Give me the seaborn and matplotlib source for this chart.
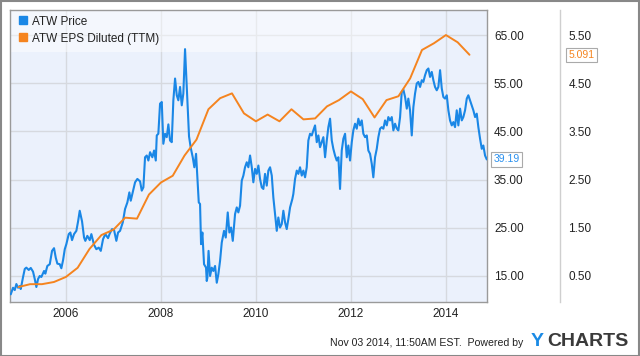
import numpy as np
import pandas as pd
import matplotlib
matplotlib.use("Agg")
import matplotlib.pyplot as plt
from matplotlib.lines import Line2D
from matplotlib.patches import Rectangle
import seaborn as sns

# ---------------- data ----------------
price_year = [
    2004.836, 2004.884, 2004.920, 2004.954, 2004.990, 2005.025, 2005.046, 2005.095, 2005.131, 2005.164,
    2005.215, 2005.257, 2005.305, 2005.341, 2005.375, 2005.411, 2005.446, 2005.480, 2005.537, 2005.564,
    2005.606, 2005.657, 2005.705, 2005.747, 2005.783, 2005.817, 2005.867, 2005.901, 2005.937, 2005.973,
    2006.006, 2006.057, 2006.091, 2006.126, 2006.168, 2006.217, 2006.253, 2006.288, 2006.337, 2006.379,
    2006.406, 2006.448, 2006.499, 2006.533, 2006.589, 2006.638, 2006.688, 2006.731, 2006.779, 2006.827,
    2006.884, 2006.920, 2006.968, 2007.011, 2007.059, 2007.095, 2007.137, 2007.194, 2007.242, 2007.291,
    2007.333, 2007.362, 2007.404, 2007.453, 2007.501, 2007.558, 2007.594, 2007.628, 2007.663, 2007.699,
    2007.733, 2007.769, 2007.817, 2007.853, 2007.889, 2007.910, 2007.943, 2007.979, 2008.015, 2008.048,
    2008.084, 2008.120, 2008.154, 2008.189, 2008.225, 2008.259, 2008.295, 2008.331, 2008.364, 2008.400,
    2008.436, 2008.469, 2008.505, 2008.541, 2008.589, 2008.625, 2008.667, 2008.701, 2008.737, 2008.764,
    2008.794, 2008.821, 2008.842, 2008.870, 2008.905, 2008.947, 2008.962, 2008.975, 2009.000, 2009.032,
    2009.067, 2009.101, 2009.137, 2009.173, 2009.206, 2009.242, 2009.278, 2009.326, 2009.362, 2009.404,
    2009.438, 2009.474, 2009.510, 2009.558, 2009.594, 2009.627, 2009.663, 2009.699, 2009.733, 2009.768,
    2009.804, 2009.838, 2009.874, 2009.910, 2009.943, 2009.979, 2010.015, 2010.049, 2010.084, 2010.120,
    2010.154, 2010.189, 2010.225, 2010.259, 2010.295, 2010.331, 2010.364, 2010.400, 2010.436, 2010.469,
    2010.505, 2010.541, 2010.575, 2010.611, 2010.646, 2010.680, 2010.716, 2010.764, 2010.785, 2010.821,
    2010.857, 2010.891, 2010.926, 2010.962, 2010.996, 2011.032, 2011.067, 2011.101, 2011.137, 2011.173,
    2011.206, 2011.242, 2011.278, 2011.312, 2011.347, 2011.383, 2011.417, 2011.453, 2011.489, 2011.522,
    2011.558, 2011.594, 2011.627, 2011.663, 2011.699, 2011.733, 2011.768, 2011.804, 2011.838, 2011.874,
    2011.910, 2011.943, 2011.979, 2012.015, 2012.048, 2012.084, 2012.120, 2012.154, 2012.189, 2012.225,
    2012.259, 2012.295, 2012.331, 2012.364, 2012.400, 2012.436, 2012.469, 2012.505, 2012.541, 2012.575,
    2012.611, 2012.646, 2012.680, 2012.716, 2012.752, 2012.785, 2012.821, 2012.857, 2012.891, 2012.926,
    2012.962, 2012.996, 2013.032, 2013.067, 2013.101, 2013.137, 2013.173, 2013.206, 2013.242, 2013.278,
    2013.312, 2013.347, 2013.383, 2013.417, 2013.453, 2013.489, 2013.522, 2013.558, 2013.594, 2013.628,
    2013.663, 2013.699, 2013.733, 2013.768, 2013.804, 2013.838, 2013.874, 2013.910, 2013.943, 2013.979,
    2014.015, 2014.049, 2014.084, 2014.120, 2014.154, 2014.189, 2014.225, 2014.259, 2014.295, 2014.331,
    2014.364, 2014.400, 2014.436, 2014.469, 2014.505, 2014.541, 2014.575, 2014.611, 2014.646, 2014.680,
    2014.716, 2014.752, 2014.785, 2014.821, 2014.857,
]
price = [
    11.19, 12.56, 12.08, 13.33, 12.56, 12.92, 12.29, 14.79, 16.46, 16.73,
    16.25, 16.67, 15.90, 14.38, 12.71, 14.38, 15.00, 14.79, 16.04, 15.48,
    17.08, 17.44, 20.21, 20.77, 18.81, 17.56, 17.44, 16.60, 18.27, 20.56,
    21.60, 23.69, 24.02, 22.44, 23.69, 24.37, 26.31, 28.54, 26.31, 22.98,
    22.29, 23.33, 22.44, 23.69, 21.46, 20.56, 20.89, 20.21, 22.64, 23.69,
    22.85, 23.81, 24.73, 24.52, 22.29, 24.02, 24.37, 26.10, 28.89, 30.27,
    32.35, 30.62, 32.35, 34.44, 35.14, 34.64, 32.71, 33.39, 39.64, 40.00,
    38.96, 40.69, 39.64, 41.04, 38.96, 44.17, 44.52, 50.77, 51.10, 42.44,
    44.52, 43.81, 46.46, 43.12, 42.77, 51.46, 55.98, 52.50, 51.46, 54.23,
    50.42, 52.85, 62.08, 54.23, 43.96, 41.60, 39.64, 37.56, 40.35, 35.48,
    30.27, 29.94, 21.60, 24.02, 17.44, 16.73, 13.96, 14.64, 20.21, 15.00,
    16.73, 16.04, 17.08, 13.60, 15.35, 18.12, 21.94, 24.37, 22.98, 28.19,
    24.02, 25.06, 22.29, 27.85, 29.23, 28.19, 29.58, 34.79, 35.83, 37.56,
    38.60, 37.56, 40.00, 37.56, 34.44, 37.23, 36.19, 37.92, 35.14, 33.39,
    33.06, 36.19, 33.75, 36.87, 37.56, 35.83, 31.31, 27.85, 24.37, 27.14,
    25.06, 25.77, 28.54, 26.10, 24.73, 26.81, 29.23, 30.98, 32.02, 35.14,
    36.87, 36.19, 37.56, 35.83, 36.87, 35.48, 37.56, 43.12, 44.52, 44.17,
    45.21, 46.25, 42.77, 44.17, 41.73, 42.77, 43.81, 39.64, 43.12, 45.89,
    47.64, 43.12, 41.39, 40.00, 38.96, 39.64, 33.06, 41.04, 43.48, 44.52,
    39.64, 42.08, 38.96, 42.77, 45.21, 46.60, 45.56, 47.64, 46.25, 47.29,
    44.52, 43.81, 44.17, 41.04, 40.35, 38.27, 35.48, 39.64, 41.39, 43.81,
    45.56, 45.89, 45.56, 47.29, 46.25, 47.98, 47.29, 47.98, 45.21, 46.60,
    45.62, 45.21, 47.98, 53.19, 53.69, 52.15, 49.73, 51.81, 49.38, 44.17,
    50.06, 52.85, 54.94, 55.27, 54.23, 55.63, 55.27, 56.67, 57.71, 58.06,
    56.31, 57.35, 55.63, 54.23, 53.54, 54.23, 57.71, 53.89, 52.15, 51.81,
    52.50, 49.38, 47.29, 46.25, 46.94, 45.89, 49.38, 46.25, 49.73, 47.29,
    47.98, 49.38, 51.81, 52.50, 51.46, 50.42, 49.38, 47.98, 48.69, 45.89,
    43.48, 41.39, 42.08, 40.00, 39.19,
]

eps_quarter_end = pd.date_range("2004-12-31", periods=39, freq="QE")
eps = [
    0.27, 0.33, 0.33, 0.375, 0.48, 0.67, 1.06, 1.35, 1.46, 1.71,
    1.69, 2.19, 2.44, 2.58, 3.00, 3.33, 3.96, 4.19, 4.29, 3.875,
    3.71, 3.85, 3.71, 3.96, 3.75, 3.77, 4.02, 4.15, 4.33, 4.17,
    3.79, 4.15, 4.23, 4.60, 5.19, 5.33, 5.50, 5.35, 5.091,
]

price_ticks = [15, 25, 35, 45, 55, 65]
eps_ticks = [0.5, 1.5, 2.5, 3.5, 4.5, 5.5]
year_ticks = [2006, 2008, 2010, 2012, 2014]

# ---------------- style ----------------
BLUE = "#1a87e6"
ORANGE = "#f5841f"
sns.set_style("white")
plt.rcParams["font.family"] = ["Liberation Sans", "DejaVu Sans"]

W, H = 640, 356
fig = plt.figure(figsize=(6.4, 3.56), dpi=100)
L, R, T, B = 10, 487, 10, 302
ax = fig.add_axes([L / W, 1 - B / H, (R - L) / W, (B - T) / H])
ax.set_facecolor("#ebf1fc")

def dec_year(ts):
    return ts.year + (ts.dayofyear - 1) / (366 if ts.is_leap_year else 365)

price_df = pd.DataFrame({"year": price_year, "price": price})
eps_df = pd.DataFrame({"year": [dec_year(t) for t in eps_quarter_end], "eps": eps})

sns.lineplot(data=price_df, x="year", y="price", ax=ax, color=BLUE, lw=1.5, zorder=3)

ymin, ymax = 9.6, 70.2
ax.set_xlim(2004.82, 2014.862)
ax.set_ylim(ymin, ymax)
ax.set_xlabel("")
ax.set_ylabel("")
ax.set_xticks(year_ticks)
ax.set_xticklabels([str(y) for y in year_ticks])
ax.set_yticks(price_ticks)
ax.set_yticklabels([f"{v:.2f}" for v in price_ticks])
ax.grid(True, color="#d6d9df", lw=1.0)
ax.set_axisbelow(True)
for s in ax.spines.values():
    s.set_color("#9a9a9a")
    s.set_linewidth(1.0)

# legend band
ax.add_patch(Rectangle((0, 1 - 42 / 292), (420 - L) / (R - L), 42 / 292,
                       transform=ax.transAxes, facecolor="white", alpha=0.45,
                       edgecolor="none", zorder=1))

# EPS axis
ax2 = ax.twinx()
sns.lineplot(data=eps_df, x="year", y="eps", ax=ax2, color=ORANGE, lw=1.4, zorder=2)
ax2.set_ylim(ymin / 10 - 1, ymax / 10 - 1)
ax2.set_xlim(ax.get_xlim())
ax2.set_ylabel("")
ax2.set_yticks(eps_ticks)
ax2.set_yticklabels([f"{v:.2f}" for v in eps_ticks])
ax2.tick_params(axis="y", length=0, pad=6, labelsize=8.5, colors="#222222")
for k in ["top", "left", "bottom"]:
    ax2.spines[k].set_visible(False)
ax2.spines["right"].set_position(("outward", 73 * 72 / 100))
ax2.spines["right"].set_color("#cfcfcf")
ax2.spines["right"].set_linewidth(1.0)

# price labels on the right of the plot (after twinx)
ax.yaxis.tick_right()
ax.tick_params(axis="y", which="both", left=False, right=False, labelleft=False,
               labelright=True, length=0, pad=5, labelsize=8.5, colors="#222222")
ax.tick_params(axis="x", length=0, pad=4, labelsize=8.5, colors="#222222")

# legend
handles = [Line2D([], [], marker="s", ls="", color=BLUE, markersize=5.5),
           Line2D([], [], marker="s", ls="", color=ORANGE, markersize=5.5)]
leg = ax2.legend(handles, ["ATW Price", "ATW EPS Diluted (TTM)"], loc="upper left",
                 bbox_to_anchor=(0.014, 0.985), frameon=False, fontsize=8.5,
                 handlelength=0.8, handletextpad=0.4, labelspacing=0.42,
                 borderpad=0.1, borderaxespad=0)
for t in leg.get_texts():
    t.set_color("#222222")

# end labels
ax2.annotate(f"{price[-1]:.2f}", xy=(1, (price[-1] - ymin) / (ymax - ymin)),
             xycoords="axes fraction", xytext=(4.5, 0), textcoords="offset points",
             ha="left", va="center", fontsize=7.5, color="#2a90ee",
             bbox=dict(boxstyle="square,pad=0.2", fc="white", ec="#aaaaaa", lw=0.8),
             zorder=10, annotation_clip=False)
ax2.annotate(f"{eps[-1]:.3f}", xy=(1, (eps[-1] - (ymin / 10 - 1)) / ((ymax - ymin) / 10)),
             xycoords="axes fraction", xytext=(73 * 0.72 + 6, 0), textcoords="offset points",
             ha="left", va="center", fontsize=7.5, color="#f5841f",
             bbox=dict(boxstyle="square,pad=0.2", fc="white", ec="#aaaaaa", lw=0.8),
             zorder=10, annotation_clip=False)

# footer
fig.text(330 / W, 1 - 343 / H, "Nov 03 2014, 11:50AM EST.  Powered by", ha="left",
         va="center", fontsize=7.6, color="#222222")
fig.text(531 / W, 1 - 342 / H, "Y", ha="left", va="center", fontsize=14,
         fontweight="bold", color="#1a8ae5")
fig.text(547 / W, 1 - 342 / H, "CHARTS", ha="left", va="center", fontsize=14,
         fontweight="bold", color="#3a3a3a")

# outer border
fig.add_artist(Rectangle((0.5 / W, 0.5 / H), 1 - 1.5 / W, 1 - 1.5 / H,
                         transform=fig.transFigure, fill=False, ec="#888888", lw=1.5))

fig.savefig("out.png", dpi=100)
